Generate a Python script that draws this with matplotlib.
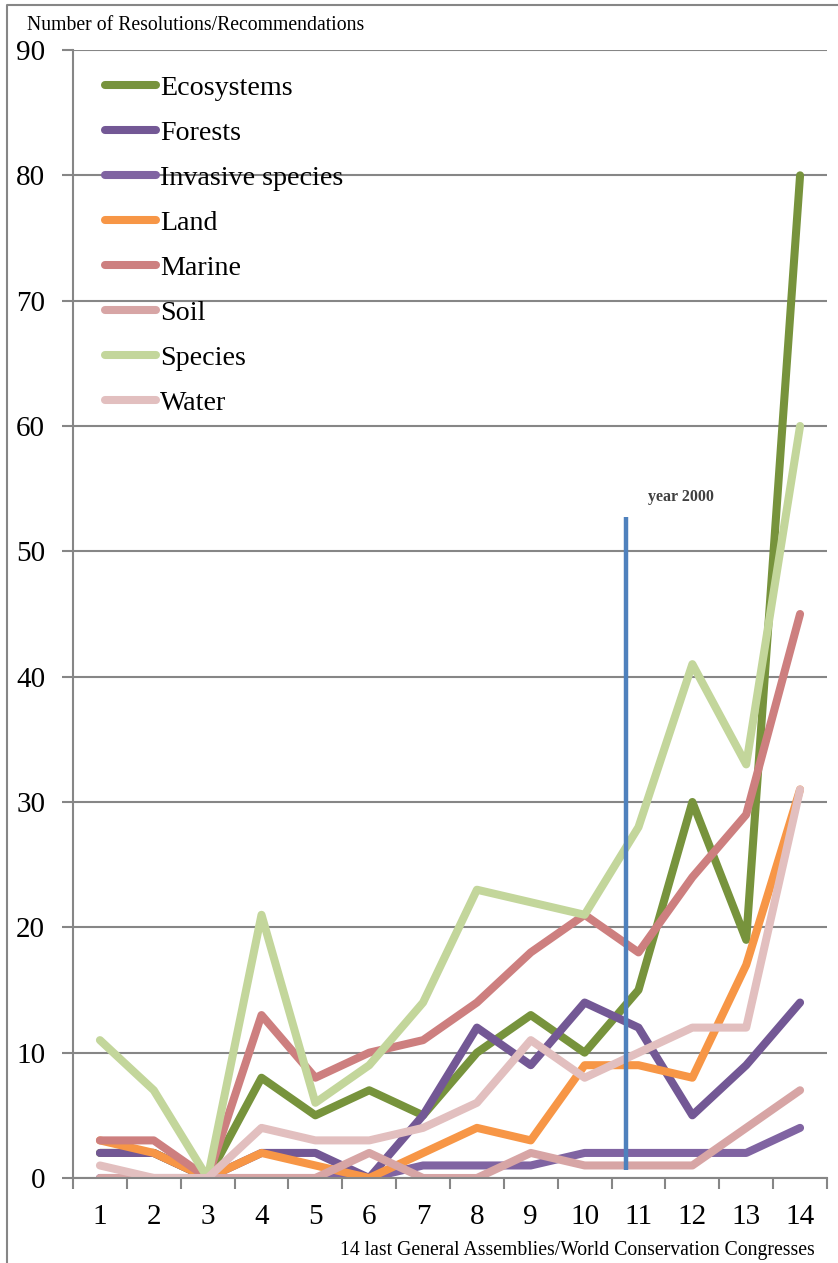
import numpy as np
import matplotlib
matplotlib.use("Agg")
import matplotlib.pyplot as plt
from matplotlib.lines import Line2D

# resolutions/recommendations per theme, at each of the last 14 assemblies/congresses
congresses = list(range(1, 15))
ecosystems = [2, 2, 0, 8, 5, 7, 5, 10, 13, 10, 15, 30, 19, 80]
forests = [2, 2, 0, 2, 2, 0, 5, 12, 9, 14, 12, 5, 9, 14]
invasive = [0, 0, 0, 0, 0, 0, 1, 1, 1, 2, 2, 2, 2, 4]
land = [3, 2, 0, 2, 1, 0, 2, 4, 3, 9, 9, 8, 17, 31]
marine = [3, 3, 0, 13, 8, 10, 11, 14, 18, 21, 18, 24, 29, 45]
soil = [0, 0, 0, 0, 0, 2, 0, 0, 2, 1, 1, 1, 4, 7]
species = [11, 7, 0, 21, 6, 9, 14, 23, 22, 21, 28, 41, 33, 60]
water = [1, 0, 0, 4, 3, 3, 4, 6, 11, 8, 10, 12, 12, 31]

labels = ["Ecosystems", "Forests", "Invasive species", "Land",
          "Marine", "Soil", "Species", "Water"]
series = [ecosystems, forests, invasive, land, marine, soil, species, water]
colors = ["#77933C", "#735895", "#8064A2", "#F79646",
          "#CD7F7F", "#D7A5A5", "#C3D69B", "#E2BFBF"]

# marker for the year 2000
year2000_x = 10.77
year2000_span = (0.6, 52.7)

plt.rcParams['font.family'] = ['Liberation Serif', 'DejaVu Serif']

fig = plt.figure(figsize=(8.38, 12.63), dpi=100)
ax = fig.add_axes([73 / 838, 85 / 1263, 754 / 838, 1128 / 1263])

for vals, lab, col in zip(series, labels, colors):
    ax.plot(congresses, vals, color=col, lw=5.8, label=lab,
            solid_capstyle='round', solid_joinstyle='round')

ax.plot([year2000_x, year2000_x], year2000_span, color="#4F81BD", lw=3.2,
        solid_capstyle='butt')
ax.text(year2000_x + 0.4, year2000_span[1] + 1.0, "year 2000",
        fontsize=11.5, fontweight='bold', color="#404040", va='bottom')

ax.set_xlim(0.5, 14.5)
ax.set_ylim(0, 90)
ax.set_yticks(np.arange(0, 91, 10))
ax.set_xticks(congresses)
ax.set_xticks(np.arange(0.5, 14.6, 1), minor=True)
ax.tick_params(axis='x', which='major', length=0, pad=19, labelsize=21)
ax.tick_params(axis='x', which='minor', length=8, width=1.5, color="#868686",
               direction='out')
ax.tick_params(axis='y', length=8, width=1.5, color="#868686", pad=12,
               labelsize=21)

ax.grid(axis='y', color="#868686", lw=1.5)
ax.set_axisbelow(True)
for side in ['top', 'right']:
    ax.spines[side].set_visible(False)
for side in ['left', 'bottom']:
    ax.spines[side].set_color("#868686")
    ax.spines[side].set_linewidth(1.5)

leg = ax.legend(loc='upper left', bbox_to_anchor=(0.017, 0.995), frameon=False,
                fontsize=20.2, handlelength=1.8, handletextpad=0.15,
                labelspacing=0.69, borderaxespad=0.3)
for h in leg.legend_handles:
    h.set_linewidth(5.8)

fig.text(27 / 838, 1 - 25 / 1263, "Number of Resolutions/Recommendations",
         fontsize=14.2, va='center', ha='left')
fig.text(815 / 838, 1 - 1250 / 1263,
         "14 last General Assemblies/World Conservation Congresses",
         fontsize=14.2, va='center', ha='right')

# chart area border, left and top edges
fig.add_artist(Line2D([7 / 838, 7 / 838, 1.0], [0.0, 1 - 5 / 1263, 1 - 5 / 1263],
                      color="#868686", lw=1.5, transform=fig.transFigure))

fig.savefig("out.png", dpi=100)
